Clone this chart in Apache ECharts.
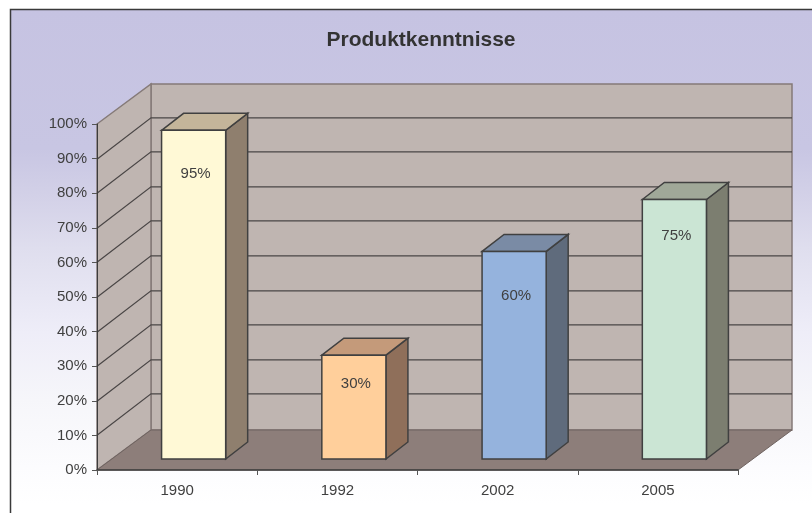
<!DOCTYPE html>
<html>
<head>
<meta charset="utf-8">
<title>Produktkenntnisse</title>
<style>
html, body { margin: 0; padding: 0; background: #fff; }
#chart { width: 812px; height: 513px; }
</style>
<script src="https://cdn.jsdelivr.net/npm/echarts@6/dist/echarts.min.js"></script>
</head>
<body>
<div id="chart"></div>
<script>
let categories = ['1990', '1992', '2002', '2005'];
let values = [95, 30, 60, 75];
let gridTicks = [10, 20, 30, 40, 50, 60, 70, 80, 90];
let labelDrops = [44, 29, 44, 36];
let frontColors = ['#fff9d6', '#ffcf9b', '#95b3dd', '#cbe5d4'];
let sideColors = ['#8f7f6e', '#8f6f5a', '#5f6b7c', '#7c7e70'];
let topColors = ['#c4b59a', '#c49a7a', '#7a8ba5', '#a0a898'];

let font = '"Liberation Sans", Arial, sans-serif';
let textColor = '#404040';
let lineColor = '#3c3c3c';
let wallLine = '#857a78';
// 3D offset of the back wall and of the bars
let depthX = 54, depthY = -40;
let barInX = 16.5, barInY = -11;
let barDepthX = 22, barDepthY = -17;

let myChart = echarts.init(document.getElementById('chart'), null, { renderer: 'canvas' });

function poly(points, fill, stroke, width) {
	return {
		type: 'polygon',
		shape: { points: points },
		style: { fill: fill, stroke: stroke, lineWidth: width }
	};
}

function renderWalls(params, api) {
	let c = params.coordSys;
	let x0 = c.x, x1 = c.x + c.width;
	let yTop = c.y, yBot = c.y + c.height;
	let children = [
		// back wall, left wall, floor
		poly([[x0 + depthX, yTop + depthY], [x1 + depthX, yTop + depthY], [x1 + depthX, yBot + depthY], [x0 + depthX, yBot + depthY]], '#bfb5b1', wallLine, 1.5),
		poly([[x0, yTop], [x0 + depthX, yTop + depthY], [x0 + depthX, yBot + depthY], [x0, yBot]], '#bfb5b1', wallLine, 1.5),
		poly([[x0, yBot], [x0 + depthX, yBot + depthY], [x1 + depthX, yBot + depthY], [x1, yBot]], '#8d7e7a', '#6f6360', 1)
	];
	gridTicks.forEach(function (t) {
		let y = Math.round(api.coord([0, t])[1]) + 0.3;
		children.push({
			type: 'polyline',
			shape: { points: [[x0, y], [x0 + depthX, y + depthY - 1.5], [x1 + depthX, y + depthY - 1.5]] },
			style: { fill: 'none', stroke: '#4a4646', lineWidth: 1.2 }
		});
	});
	return { type: 'group', children: children };
}

function renderBar(params, api) {
	let i = api.value(0);
	let band = api.size([1, 0])[0];
	let w = band * 0.4;
	let top = api.coord([i, api.value(1)]);
	let base = api.coord([i, 0]);
	let xl = base[0] - w / 2 + barInX;
	let xr = xl + w;
	let yt = top[1] + barInY;
	let yb = base[1] + barInY;
	let s = '#404040';
	return {
		type: 'group',
		children: [
			poly([[xr, yt], [xr + barDepthX, yt + barDepthY], [xr + barDepthX, yb + barDepthY], [xr, yb]], sideColors[i], s, 1.5),
			poly([[xl, yt], [xl + barDepthX, yt + barDepthY], [xr + barDepthX, yt + barDepthY], [xr, yt]], topColors[i], s, 1.5),
			poly([[xl, yt], [xr, yt], [xr, yb], [xl, yb]], frontColors[i], s, 1.5),
			{
				type: 'text',
				style: {
					x: (xl + xr) / 2 + 2,
					y: yt + labelDrops[i],
					text: api.value(1) + '%',
					font: '15px ' + font,
					fill: textColor,
					align: 'center',
					verticalAlign: 'middle'
				}
			}
		]
	};
}

let option = {
	animation: false,
	backgroundColor: '#fff',
	title: {
		text: 'Produktkenntnisse',
		left: 416,
		top: 25,
		textAlign: 'center',
		textStyle: { fontFamily: font, fontSize: 21, fontWeight: 'bold', color: '#333' }
	},
	graphic: [{
		type: 'rect',
		z: -10,
		silent: true,
		shape: { x: 10.5, y: 9.5, width: 820, height: 520 },
		style: {
			stroke: '#3a3a3a',
			lineWidth: 1.5,
			fill: {
				type: 'linear', x: 0, y: 0, x2: 0, y2: 1,
				colorStops: [
					{ offset: 0, color: '#c6c3e2' },
					{ offset: 0.27, color: '#c8c6e3' },
					{ offset: 0.37, color: '#d4d2e8' },
					{ offset: 0.46, color: '#dfdeee' },
					{ offset: 0.62, color: '#eeedf8' },
					{ offset: 0.75, color: '#f6f6fa' },
					{ offset: 0.88, color: '#fcfcfe' },
					{ offset: 0.95, color: '#ffffff' },
					{ offset: 1, color: '#ffffff' }
				]
			}
		}
	}],
	grid: { left: 97, width: 641, top: 124, height: 346 },
	xAxis: {
		type: 'category',
		data: categories,
		z: 4,
		axisLine: { lineStyle: { color: lineColor, width: 1.5 } },
		axisTick: { show: true, length: 5, alignWithLabel: false, lineStyle: { color: '#555' } },
		axisLabel: { color: textColor, fontFamily: font, fontSize: 15, margin: 13 },
		splitLine: { show: false }
	},
	yAxis: {
		type: 'value',
		min: 0,
		max: 100,
		interval: 10,
		z: 4,
		axisLine: { show: true, lineStyle: { color: lineColor, width: 1 } },
		axisTick: { show: true, length: 5, lineStyle: { color: '#555' } },
		axisLabel: { formatter: '{value}%', color: textColor, fontFamily: font, fontSize: 15, margin: 10, padding: [2, 0, 0, 0] },
		splitLine: { show: false }
	},
	series: [
		{
			type: 'custom',
			z: 1,
			silent: true,
			renderItem: renderWalls,
			data: [[0, 0]],
			encode: { x: 0, y: 1 }
		},
		{
			type: 'custom',
			z: 2,
			renderItem: renderBar,
			encode: { x: 0, y: 1 },
			data: values.map(function (v, i) { return [i, v]; })
		}
	]
};

myChart.setOption(option);
</script>
</body>
</html>
